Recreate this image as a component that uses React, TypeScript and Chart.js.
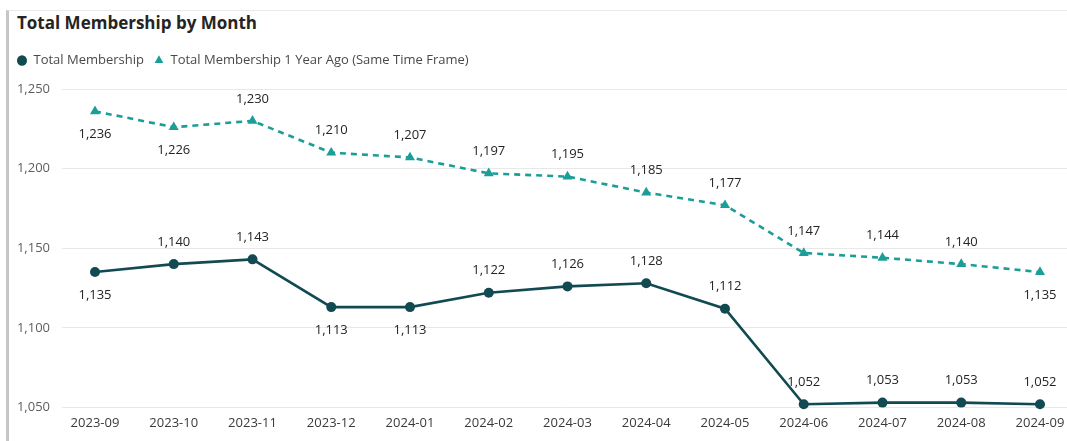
import React, { useEffect, useRef } from 'react';
import { Chart, registerables } from 'chart.js';

Chart.register(...registerables);

const months = [
  '2023-09', '2023-10', '2023-11', '2023-12', '2024-01', '2024-02', '2024-03',
  '2024-04', '2024-05', '2024-06', '2024-07', '2024-08', '2024-09',
];
const totalMembership = [1135, 1140, 1143, 1113, 1113, 1122, 1126, 1128, 1112, 1052, 1053, 1053, 1052];
const totalMembershipYearAgo = [1236, 1226, 1230, 1210, 1207, 1197, 1195, 1185, 1177, 1147, 1144, 1140, 1135];
const yAxisTicks = [1050, 1100, 1150, 1200, 1250];
const totalLabelSide = ['below', 'above', 'above', 'below', 'below', 'above', 'above', 'above', 'above', 'above', 'above', 'above', 'above'];
const yearAgoLabelSide = ['below', 'below', 'above', 'above', 'above', 'above', 'above', 'above', 'above', 'above', 'above', 'above', 'below'];

const FONT = '"Open Sans", "Noto Sans", sans-serif';
const LEGEND_EXTRA = 12;

const labelSides: string[][] = [totalLabelSide, yearAgoLabelSide];

const dataLabelPlugin = {
  id: 'pointValueLabels',
  afterDatasetsDraw(chart: any) {
    const ctx = chart.ctx;
    ctx.save();
    ctx.font = `13px ${FONT}`;
    ctx.fillStyle = '#252423';
    ctx.textAlign = 'center';
    ctx.textBaseline = 'middle';
    chart.data.datasets.forEach((ds: any, di: number) => {
      const meta = chart.getDatasetMeta(di);
      meta.data.forEach((pt: any, i: number) => {
        const v = ds.data[i].y as number;
        const text = v.toLocaleString('en-US');
        const dy = labelSides[di][i] === 'above' ? -22 : 23;
        ctx.fillText(text, pt.x, pt.y + dy);
      });
    });
    ctx.restore();
  },
};

const legendSpacingPlugin = {
  id: 'legendSpacing',
  beforeLayout(chart: any) {
    const legend = chart.legend;
    if (legend && !legend.__patched) {
      const orig = legend.fit;
      legend.fit = function () {
        orig.call(this);
        this.height += LEGEND_EXTRA;
      };
      legend.__patched = true;
    }
  },
};

export default function App() {
  const canvasRef = useRef<HTMLCanvasElement | null>(null);

  useEffect(() => {
    const canvas = canvasRef.current;
    if (!canvas) return;
    const chart = new Chart(canvas, {
      type: 'line',
      data: {
        datasets: [
          {
            label: 'Total Membership',
            data: totalMembership.map((v, i) => ({ x: i, y: v })),
            borderColor: '#124a52',
            backgroundColor: '#124a52',
            borderWidth: 2.6,
            pointStyle: 'circle',
            pointRadius: 5,
            pointBorderWidth: 0,
            pointBackgroundColor: '#124a52',
            tension: 0,
            clip: false,
          },
          {
            label: 'Total Membership 1 Year Ago (Same Time Frame)',
            data: totalMembershipYearAgo.map((v, i) => ({ x: i, y: v })),
            borderColor: '#1a9e97',
            backgroundColor: '#1a9e97',
            borderWidth: 2.6,
            borderDash: [6, 5],
            pointStyle: 'triangle',
            pointRadius: 5.8,
            pointBorderWidth: 0,
            pointBackgroundColor: '#1a9e97',
            tension: 0,
            clip: false,
          },
        ],
      },
      options: {
        animation: false,
        responsive: false,
        devicePixelRatio: 1,
        events: [],
        layout: { autoPadding: false, padding: { top: 44, left: 0, right: 0, bottom: 10 } },
        plugins: {
          title: { display: false },
          tooltip: { enabled: false },
          legend: {
            display: true,
            position: 'top',
            align: 'start',
            labels: {
              usePointStyle: true,
              pointStyleWidth: 10,
              boxHeight: 7.4,
              padding: 10,
              color: '#4a4947',
              font: { family: FONT, size: 13 },
            },
          },
        },
        scales: {
          x: {
            type: 'linear',
            min: -0.419,
            max: 12.343,
            afterBuildTicks: (axis: any) => {
              axis.ticks = months.map((_, i) => ({ value: i }));
            },
            afterFit: (scale: any) => {
              scale.paddingLeft = 0;
              scale.paddingRight = 0;
            },
            grid: { display: false, drawTicks: true, tickLength: 8 },
            border: { display: false },
            ticks: {
              autoSkip: false,
              maxRotation: 0,
              padding: 0,
              color: '#3b3a39',
              font: { family: FONT, size: 13 },
              callback: (value: any) => months[value as number] ?? '',
            },
          },
          y: {
            type: 'linear',
            min: 1050,
            max: 1250,
            afterBuildTicks: (axis: any) => {
              axis.ticks = yAxisTicks.map((v) => ({ value: v }));
            },
            afterFit: (scale: any) => {
              scale.width = 55;
            },
            grid: { color: '#e8e8e8', lineWidth: 1, drawTicks: false },
            border: { display: false },
            ticks: {
              padding: 12,
              color: '#605e5c',
              font: { family: FONT, size: 13 },
            },
          },
        },
      },
      plugins: [dataLabelPlugin, legendSpacingPlugin],
    } as any);
    return () => chart.destroy();
  }, []);

  return (
    <div style={{ position: 'absolute', left: 0, top: 0, width: 1067, height: 441, overflow: 'hidden', background: '#ffffff' }}>
      <div
        style={{
          position: 'absolute',
          left: 6,
          top: 10,
          width: 1061,
          height: 431,
          boxSizing: 'border-box',
          borderLeft: '3px solid #c6c6c6',
          borderTop: '1px solid #e9e9e9',
        }}
      />
      <div
        style={{
          position: 'absolute',
          left: 17,
          top: 13,
          fontFamily: FONT,
          fontWeight: 700,
          fontSize: 17,
          lineHeight: '20px',
          color: '#252423',
          whiteSpace: 'nowrap',
        }}
      >
        Total Membership by Month
      </div>
      <canvas
        ref={canvasRef}
        width={1060}
        height={441}
        style={{ position: 'absolute', left: 7, top: 0, width: 1060, height: 441 }}
      />
    </div>
  );
}
